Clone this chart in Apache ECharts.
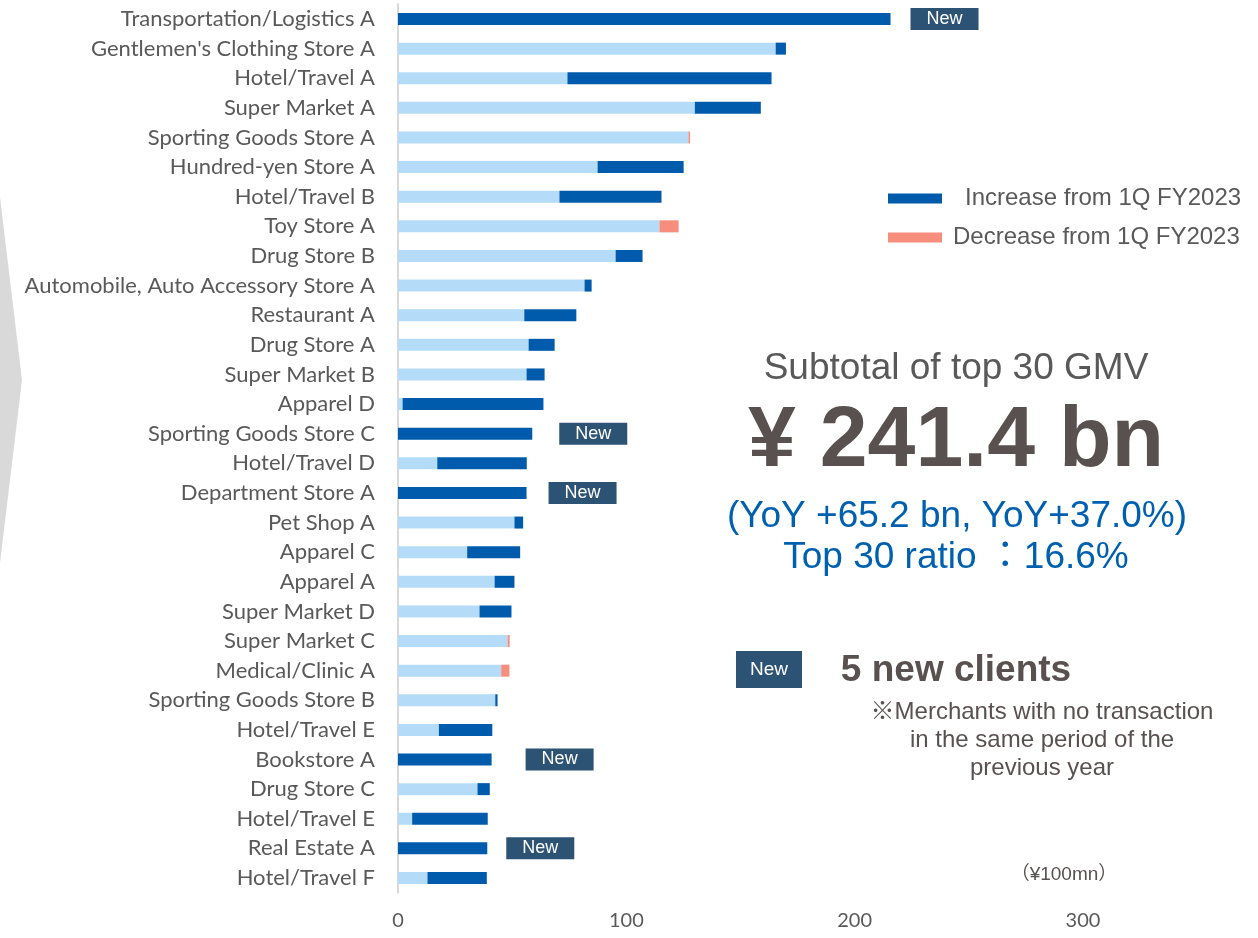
<!DOCTYPE html>
<html>
<head>
<meta charset="utf-8">
<script src="https://cdn.jsdelivr.net/npm/echarts@6/dist/echarts.min.js"></script>
<style>
html,body{margin:0;padding:0;background:#fff;}
#chart{width:1258px;height:938px;}
</style>
</head>
<body>
<div id="chart"></div>
<script>
// ---- data (¥100mn) ----
const categories = [
  "Transportation/Logistics A","Gentlemen's Clothing Store A","Hotel/Travel A","Super Market A",
  "Sporting Goods Store A","Hundred-yen Store A","Hotel/Travel B","Toy Store A","Drug Store B",
  "Automobile, Auto Accessory Store A","Restaurant A","Drug Store A","Super Market B","Apparel D",
  "Sporting Goods Store C","Hotel/Travel D","Department Store A","Pet Shop A","Apparel C","Apparel A",
  "Super Market D","Super Market C","Medical/Clinic A","Sporting Goods Store B","Hotel/Travel E",
  "Bookstore A","Drug Store C","Hotel/Travel E","Real Estate A","Hotel/Travel F"
];
// retained part (the lighter bar)
const baseValues = [
  0,165.4,74.2,130.0,127.2,87.4,70.7,114.5,95.3,81.7,
  55.3,57.2,56.3,2.0,0,17.2,0,51.0,30.3,42.3,
  35.7,48.0,45.2,42.6,17.9,0,34.8,6.2,0,12.9
];
const increaseValues = [
  215.7,4.5,89.4,28.9,0,37.7,44.7,0,11.8,3.1,
  22.8,11.4,7.9,61.7,58.8,39.2,56.3,3.8,23.2,8.7,
  14.0,0,0,1.0,23.4,41.0,5.4,33.1,39.1,26.0
];
const decreaseValues = [
  0,0,0,0,0.7,0,0,8.4,0,0,
  0,0,0,0,0,0,0,0,0,0,
  0,0.9,3.6,0,0,0,0,0,0,0
];
const isNewClient = [
  true,false,false,false,false,false,false,false,false,false,
  false,false,false,false,true,false,true,false,false,false,
  false,false,false,false,false,true,false,false,true,false
];
const xTicks = [0, 100, 200, 300];
const seriesNames = ["Increase from 1Q FY2023", "Decrease from 1Q FY2023"];

// ---- styling (kept apart from data) ----
const badgeGap = {0: 20, 14: 27, 16: 22, 25: 34, 28: 19};
const C_DARK = '#005BAC', C_LIGHT = '#B4DBF7', C_RED = '#F78D7D', C_BADGE = '#2C5274';
const GREY = '#595959', DARKTXT = '#595150', BLUE = '#0060B0';
const LAT = 'Lato, "Open Sans", sans-serif';
const ARI = '"Liberation Sans", Arial, "Noto Sans CJK JP", sans-serif';

const increaseData = increaseValues.map((v, i) => {
  if (!isNewClient[i]) return v;
  return {
    value: v,
    label: {
      show: true, position: 'right', distance: badgeGap[i] || 22,
      formatter: 'New', color: '#fff', backgroundColor: C_BADGE,
      fontFamily: ARI, fontSize: 18, lineHeight: 20, padding: [1, 16, 1, 16]
    }
  };
});

const chart = echarts.init(document.getElementById('chart'), null, {renderer: 'canvas'});
chart.setOption({
  animation: false,
  backgroundColor: '#fff',
  grid: {left: 398, right: 175, top: 4.2, bottom: 45.2, containLabel: false},
  xAxis: {
    type: 'value', min: xTicks[0], max: xTicks[xTicks.length - 1], interval: xTicks[1] - xTicks[0],
    axisLine: {show: false}, axisTick: {show: false}, splitLine: {show: false},
    axisLabel: {color: GREY, fontFamily: LAT, fontSize: 20, margin: 18}
  },
  yAxis: {
    type: 'category', inverse: true, data: categories,
    axisLine: {show: true, lineStyle: {color: '#D9D9D9', width: 2}},
    axisTick: {show: false},
    axisLabel: {color: GREY, fontFamily: LAT, fontSize: 22, margin: 23}
  },
  legend: [
    {
      data: [seriesNames[0]], left: 888, top: 185.5, padding: 0,
      itemWidth: 54, itemHeight: 10, icon: 'rect', selectedMode: false,
      textStyle: {color: GREY, fontFamily: ARI, fontSize: 24, lineHeight: 26, padding: [0, 0, 0, 18]}
    },
    {
      data: [seriesNames[1]], left: 888, top: 224.5, padding: 0,
      itemWidth: 54, itemHeight: 10, icon: 'rect', selectedMode: false,
      textStyle: {color: GREY, fontFamily: ARI, fontSize: 24, lineHeight: 26, padding: [0, 0, 0, 6]}
    }
  ],
  series: [
    {
      name: 'Base', type: 'bar', stack: 'gmv', barWidth: 12, data: baseValues,
      itemStyle: {color: C_LIGHT}, silent: true
    },
    {
      name: seriesNames[0], type: 'bar', stack: 'gmv', barWidth: 12, data: increaseData,
      itemStyle: {color: C_DARK}
    },
    {
      name: seriesNames[1], type: 'bar', stack: 'gmv', barWidth: 12, data: decreaseValues,
      itemStyle: {color: C_RED}
    }
  ],
  graphic: [
    {type: 'polygon', shape: {points: [[0, 197], [22, 380], [0, 563]]}, style: {fill: '#D9D9D9'}, silent: true},
    {type: 'text', x: 956, y: 369, style: {text: 'Subtotal of top 30 GMV', fill: GREY, font: '37px ' + ARI, textAlign: 'center', textVerticalAlign: 'middle'}},
    {type: 'text', x: 956, y: 442, style: {text: '¥ 241.4 bn', fill: DARKTXT, font: 'bold 86px ' + ARI, textAlign: 'center', textVerticalAlign: 'middle'}},
    {type: 'text', x: 957, y: 517, style: {text: '(YoY +65.2 bn, YoY+37.0%)', fill: BLUE, font: '37px ' + ARI, textAlign: 'center', textVerticalAlign: 'middle'}},
    {type: 'text', x: 956, y: 558, style: {text: 'Top 30 ratio ：16.6%', fill: BLUE, font: '37px ' + ARI, textAlign: 'center', textVerticalAlign: 'middle'}},
    {type: 'rect', shape: {x: 736, y: 651, width: 66, height: 37}, style: {fill: C_BADGE}},
    {type: 'text', x: 769, y: 670, style: {text: 'New', fill: '#fff', font: '19px ' + ARI, textAlign: 'center', textVerticalAlign: 'middle'}},
    {type: 'text', x: 956, y: 671, style: {text: '5 new clients', fill: DARKTXT, font: 'bold 37px ' + ARI, textAlign: 'center', textVerticalAlign: 'middle'}},
    {type: 'text', x: 1042, y: 712, style: {text: '※Merchants with no transaction', fill: DARKTXT, font: '24px ' + ARI, textAlign: 'center', textVerticalAlign: 'middle'}},
    {type: 'text', x: 1042, y: 740, style: {text: 'in the same period of the', fill: DARKTXT, font: '24px ' + ARI, textAlign: 'center', textVerticalAlign: 'middle'}},
    {type: 'text', x: 1042, y: 768, style: {text: 'previous year', fill: DARKTXT, font: '24px ' + ARI, textAlign: 'center', textVerticalAlign: 'middle'}},
    {type: 'text', x: 1064, y: 875, style: {text: '（¥100mn）', fill: DARKTXT, font: '19px ' + ARI, textAlign: 'center', textVerticalAlign: 'middle'}}
  ]
});
</script>
</body>
</html>
